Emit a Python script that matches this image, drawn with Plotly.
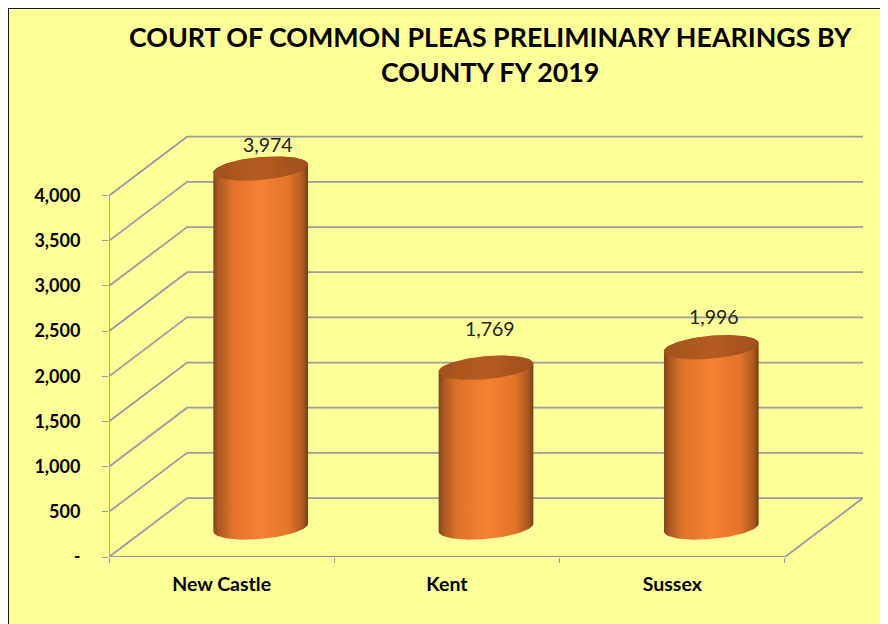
import numpy as np
import plotly.graph_objects as go

categories = ["New Castle", "Kent", "Sussex"]
values = [3974, 1769, 1996]
y_ticks = [0, 500, 1000, 1500, 2000, 2500, 3000, 3500, 4000]
y_labels = ["-", "500", "1,000", "1,500", "2,000", "2,500", "3,000", "3,500", "4,000"]
title_text = "COURT OF COMMON PLEAS PRELIMINARY HEARINGS BY<br>COUNTY FY 2019"

FONT = "Lato"
GRID = "#9b9ba3"
W, H = 880, 616
L, R, T, B = 101, 25, 125, 67

# oblique depth of the pseudo 3D box, in axis units
DX = 78 / 225.1
DY = 59 / 0.0904
XMAX = 2.5 + DX
YMAX = 424.3 / 0.0904
# cylinder ellipse radii, in axis units
A = 47.3 / 225.1
BV = 11.5 / 0.0904
SV = 4.0 / 0.0904

BODY = [[0, "#82451a"], [0.06, "#ad5a20"], [0.2, "#df722b"], [0.5, "#f58233"],
        [0.8, "#e3742b"], [0.94, "#ad5a20"], [1, "#773f16"]]
CAP = [[0, "#a2521d"], [0.5, "#b45b22"], [1, "#a04f1c"]]


def ellipse(cx, vc, t):
    return cx + A * np.cos(t), vc + SV * np.cos(t) + BV * np.sin(t)


fig = go.Figure()


def line(xs, ys, color=GRID, width=1.8):
    fig.add_trace(go.Scatter(x=xs, y=ys, mode="lines", hoverinfo="skip", cliponaxis=False,
                             line=dict(color=color, width=width), showlegend=False))


# walls and floor
for v in y_ticks:
    line([-0.5, -0.5 + DX, XMAX], [v, v + DY, v + DY])
line([-0.5, -0.5], [0, y_ticks[-1]])
line([-0.5, 2.5, XMAX], [0, 0, DY])

# cylinders
for i, v in enumerate(values):
    cx = i + DX / 2
    base = DY / 2
    top = base + v
    bx, by = ellipse(cx, base, np.linspace(np.pi, 2 * np.pi, 60))
    tx, ty = ellipse(cx, top, np.linspace(0, np.pi, 60))
    fig.add_trace(go.Scatter(
        x=np.r_[bx, tx], y=np.r_[by, ty], mode="lines", fill="toself",
        line=dict(width=0, color="rgba(0,0,0,0)"), showlegend=False, name=categories[i],
        fillgradient=dict(type="horizontal", colorscale=BODY)))
    cxs, cys = ellipse(cx, top, np.linspace(0, 2 * np.pi, 120))
    fig.add_trace(go.Scatter(
        x=cxs, y=cys, mode="lines", fill="toself",
        line=dict(width=0, color="rgba(0,0,0,0)"), showlegend=False, hoverinfo="skip",
        fillgradient=dict(type="horizontal", colorscale=CAP)))

# data labels, placed by hand above each cylinder
label_shift = [(7, 24), (4, 39), (3, 31)]
for i, v in enumerate(values):
    fig.add_annotation(x=i + DX / 2, y=DY / 2 + v, text=f"{v:,}", showarrow=False,
                       xshift=label_shift[i][0], yshift=label_shift[i][1],
                       font=dict(family=FONT, size=19.5, color="#222222"))

fig.update_layout(
    width=W, height=H, margin=dict(l=L, r=R, t=T, b=B, pad=0),
    paper_bgcolor="#FFFF99", plot_bgcolor="rgba(0,0,0,0)", showlegend=False,
    title=dict(text=title_text, x=0.5055, xref="paper", xanchor="center", y=0.937, yanchor="top",
               font=dict(family=FONT, size=26.8, color="#000000", weight="bold")),
    xaxis=dict(range=[-0.5, XMAX], tickmode="array", tickvals=[0, 1, 2], ticktext=categories,
               showgrid=False, zeroline=False, showline=False, ticks="", ticklabelstandoff=13,
               tickfont=dict(family=FONT, size=19.5, color="#000000", weight="bold"),
               minor=dict(tickmode="array", tickvals=[-0.5, 0.5, 1.5, 2.5], ticks="outside",
                          ticklen=5, tickwidth=1, tickcolor=GRID, showgrid=False)),
    yaxis=dict(range=[0, YMAX], tickmode="array", tickvals=y_ticks, ticktext=y_labels,
               showgrid=False, zeroline=False, showline=False, ticks="outside", ticklen=6,
               tickwidth=1, tickcolor=GRID, ticklabelstandoff=18,
               tickfont=dict(family=FONT, size=18, color="#000000", weight="bold")),
    shapes=[
        dict(type="line", xref="paper", yref="paper", x0=-L / (W - L - R), x1=1 + R / (W - L - R),
             y0=1 + T / (H - T - B), y1=1 + T / (H - T - B), line=dict(color="#111111", width=2)),
        dict(type="line", xref="paper", yref="paper", x0=-L / (W - L - R), x1=-L / (W - L - R),
             y0=-B / (H - T - B), y1=1 + T / (H - T - B), line=dict(color="#111111", width=2)),
    ],
)
fig.write_html("out.html")
